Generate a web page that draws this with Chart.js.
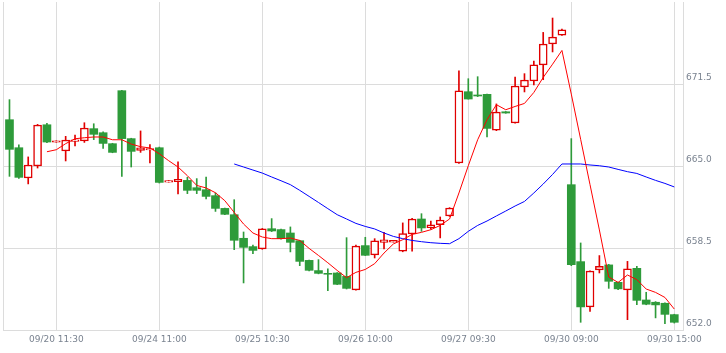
<!DOCTYPE html>
<html>
<head>
<meta charset="utf-8">
<script src="https://cdn.jsdelivr.net/npm/chart.js@4.4.0/dist/chart.umd.min.js"></script>
<style>html,body{margin:0;padding:0;background:#fff;}</style>
</head>
<body>
<canvas id="chart-area" width="726" height="353"></canvas>
<script>
// candles, one per index (30 min bars)
var opens = [668.67,666.45,664.05,665.00,668.27,666.88,666.19,666.95,666.98,667.96,
	667.64,666.77,670.97,667.17,666.24,666.27,666.45,663.72,663.76,663.86,
	663.28,663.12,662.65,661.64,661.14,659.27,658.61,658.43,660.03,659.96,
	659.69,659.08,657.52,656.71,656.49,656.52,656.25,655.18,658.69,657.95,
	658.95,658.97,658.24,659.61,660.80,660.11,660.35,661.04,665.24,670.89,
	670.63,670.68,667.85,669.30,668.41,671.26,671.74,673.01,674.67,675.38,
	663.52,657.42,653.83,656.76,657.16,655.78,655.18,656.89,654.38,654.20,
	654.12,653.22];
var highs = [670.26,666.67,665.72,668.30,668.38,667.00,667.35,667.46,668.43,668.35,
	667.70,666.80,671.00,667.20,667.78,666.69,666.50,663.85,665.34,664.10,
	664.00,664.13,662.86,661.66,662.33,659.77,658.74,660.05,660.83,660.00,
	660.17,659.10,657.55,657.58,656.84,656.55,659.32,658.74,659.35,659.24,
	659.74,659.10,660.49,660.85,661.22,660.64,660.96,661.70,672.55,671.92,
	672.08,670.70,669.92,669.32,672.05,672.32,673.32,675.59,676.73,675.85,
	667.17,658.90,656.70,657.90,657.20,655.80,657.44,657.05,654.99,654.25,
	654.15,653.25];
var lows = [664.18,664.02,663.58,664.84,666.85,666.88,665.40,666.59,666.87,667.09,
	666.40,666.05,664.18,664.92,666.08,665.24,663.65,663.72,662.78,662.81,
	662.81,662.39,661.40,661.15,658.37,655.73,658.05,658.40,659.80,659.20,
	658.19,657.10,656.68,656.45,655.12,655.60,655.25,655.15,657.90,657.71,
	658.43,658.97,658.20,658.24,659.82,660.00,659.30,661.00,665.20,670.30,
	670.50,667.30,667.80,669.18,668.40,670.87,671.42,671.84,674.04,675.35,
	657.10,652.61,653.48,656.52,655.30,655.20,652.82,654.01,654.00,652.96,
	652.51,652.55];
var closes = [666.32,664.10,665.08,668.25,666.90,667.00,667.06,667.07,668.01,667.51,
	666.79,666.08,667.17,666.16,666.45,666.39,663.70,663.85,663.94,663.07,
	663.07,662.59,661.64,661.17,659.11,658.55,658.31,660.01,659.85,659.24,
	658.95,657.44,656.73,656.49,656.42,655.62,655.30,658.66,657.92,659.06,
	659.14,659.10,659.64,660.80,660.09,660.33,660.72,661.67,670.95,670.31,
	670.55,667.98,669.28,669.20,671.34,671.82,673.01,674.67,675.22,675.80,
	657.18,653.83,656.68,657.05,655.86,655.26,656.84,654.35,654.04,653.99,
	653.24,652.61];

// moving average lines
var maShort = [null,null,null,null,666.13,666.29,666.77,667.16,667.24,667.30,
	667.30,667.08,667.08,666.74,666.53,666.43,665.97,665.42,664.92,664.23,
	663.46,663.26,662.88,662.25,661.32,660.40,659.69,659.37,659.24,659.24,
	659.29,659.10,658.47,657.91,657.33,656.72,656.15,656.57,656.80,657.26,
	658.10,658.82,659.16,659.58,659.74,659.95,660.29,660.80,662.86,665.02,
	667.08,668.67,669.86,669.46,669.72,669.96,670.83,672.02,673.07,674.16,
	670.70,667.11,663.52,659.93,656.20,655.77,656.36,655.99,655.25,654.98,
	654.58,653.66];
var maLong = [null,null,null,null,null,null,null,null,null,null,
	null,null,null,null,null,null,null,null,null,null,
	null,null,null,null,665.16,664.92,664.68,664.44,664.13,663.83,
	663.52,663.07,662.59,662.11,661.62,661.14,660.80,660.45,660.21,660.01,
	659.69,659.42,659.24,659.10,659.00,658.92,658.87,658.84,659.24,659.82,
	660.29,660.64,661.04,661.43,661.83,662.19,662.86,663.57,664.33,665.16,
	665.16,665.16,665.08,665.02,664.92,664.73,664.55,664.41,664.13,663.86,
	663.62,663.34];

var tickIdx = [5, 16, 27, 38, 49, 60, 71];
var tickLabels = ['09/20 11:30', '09/24 11:00', '09/25 10:30', '09/26 10:00', '09/27 09:30', '09/30 09:00', '09/30 15:00'];
var yTicks = [652, 658.5, 665, 671.5, 678];

var RED = '#e00000', GREEN = '#2e9b3a', GRID = '#dcdcdc', TXT = '#7a8390';
var xMin = -0.692, xMax = 71.93;

var up = closes.map(function(c, i){ return c >= opens[i]; });
function pts(arr){
	var out = [];
	arr.forEach(function(v, i){ if (v !== null) out.push({x: i, y: v}); });
	return out;
}

var config = {
	type: 'bar',
	data: {
		datasets: [{
			type: 'line',
			data: pts(maShort),
			borderColor: '#ff0000',
			borderWidth: 1,
			pointRadius: 0,
			tension: 0,
			order: 0
		}, {
			type: 'line',
			data: pts(maLong),
			borderColor: '#0000ff',
			borderWidth: 1,
			pointRadius: 0,
			tension: 0,
			order: 0
		}, {
			data: opens.map(function(o, i){ return {x: i, y: [o, closes[i]]}; }),
			backgroundColor: up.map(function(u){ return u ? '#ffffff' : GREEN; }),
			borderColor: up.map(function(u){ return u ? RED : GREEN; }),
			borderWidth: up.map(function(u){ return u ? 1.5 : 0; }),
			borderSkipped: false,
			barThickness: 8,
			grouped: false,
			order: 1
		}, {
			data: lows.map(function(l, i){ return {x: i, y: [l, highs[i]]}; }),
			backgroundColor: up.map(function(u){ return u ? RED : GREEN; }),
			borderWidth: 0,
			barThickness: 1,
			grouped: false,
			order: 2
		}]
	},
	options: {
		responsive: false,
		animation: false,
		layout: { padding: { left: 3, top: 2, right: 0, bottom: 0 } },
		plugins: { legend: { display: false }, tooltip: { enabled: false } },
		scales: {
			x: {
				type: 'linear',
				min: xMin,
				max: xMax,
				offset: false,
				grid: { offset: false, color: GRID, drawTicks: false },
				border: { color: GRID },
				afterBuildTicks: function(ax){
					ax.ticks = [{value: xMin}].concat(tickIdx.map(function(v){ return {value: v}; }));
				},
				afterFit: function(ax){
					ax.height = 23;
					ax.paddingLeft = 0;
					ax.paddingRight = 0;
				},
				ticks: {
					autoSkip: false,
					maxRotation: 0,
					padding: 4,
					color: TXT,
					font: { family: 'DejaVu Sans', size: 9 },
					callback: function(v){
						var k = tickIdx.indexOf(v);
						return k < 0 ? '' : tickLabels[k];
					}
				}
			},
			y: {
				position: 'right',
				min: 652,
				max: 678,
				grid: {
					color: function(ctx){ return ctx.tick && ctx.tick.value === 678 ? 'rgba(0,0,0,0)' : GRID; },
					drawTicks: false
				},
				border: { color: GRID },
				afterBuildTicks: function(ax){
					ax.ticks = yTicks.map(function(v){ return {value: v}; });
				},
				afterFit: function(ax){
					ax.width = 43;
					ax.paddingTop = 0;
					ax.paddingBottom = 0;
				},
				ticks: {
					padding: 3,
					labelOffset: -6,
					color: TXT,
					font: { family: 'DejaVu Sans', size: 9 },
					callback: function(v){ return v === 678 ? '' : v.toFixed(1); }
				}
			}
		}
	}
};

var ctx = document.getElementById('chart-area').getContext('2d');
window.myChart = new Chart(ctx, config);
</script>
</body>
</html>
